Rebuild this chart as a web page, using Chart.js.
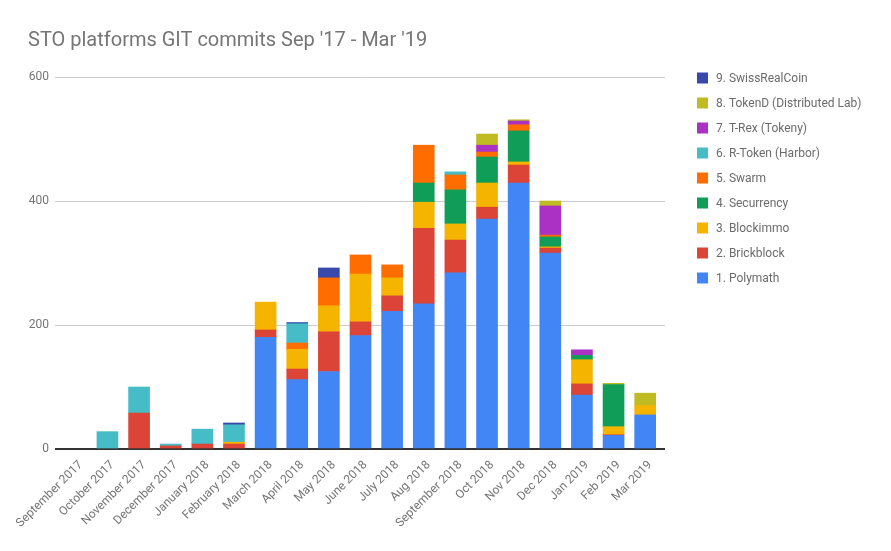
<!DOCTYPE html>
<html>
<head>
<meta charset="utf-8">
<script src="https://cdn.jsdelivr.net/npm/chart.js@4.4.0/dist/chart.umd.min.js"></script>
<style>
html,body{margin:0;padding:0;background:#fff;}
#wrap{width:891px;height:551px;}
</style>
</head>
<body>
<div id="wrap"><canvas id="c" width="891" height="551"></canvas></div>
<script>
const categories = ["September 2017","October 2017","November 2017","December 2017","January 2018","February 2018","March 2018","April 2018","May 2018","June 2018","July 2018","Aug 2018","September 2018","Oct 2018","Nov 2018","Dec 2018","Jan 2019","Feb 2019","Mar 2019"];
const polymath      = [0,0,0,0,0,0,180,112,125,183,222,234,284,371,429,316,87,22,55];
const brickblock    = [0,0,58,5,8,8,12,17,64,22,25,122,53,19,29,8,18,1,0];
const blockimmo     = [0,0,0,0,0,3,45,32,42,77,29,42,26,39,5,2,39,13,15];
const securrency    = [0,0,0,0,0,0,0,0,0,0,0,31,55,42,50,16,7,68,0];
const swarm         = [0,0,0,0,0,0,0,10,45,31,21,61,24,8,10,3,0,0,0];
const rToken        = [0,28,42,3,24,28,0,31,0,0,0,0,5,0,0,0,0,0,0];
const tRex          = [0,0,0,0,0,0,0,0,0,0,0,0,0,11,6,47,9,0,0];
const tokenD        = [0,0,0,0,0,0,0,0,0,0,0,0,0,18,2,8,0,2,20];
const swissRealCoin = [0,0,0,0,0,3,0,2,16,0,0,0,0,0,0,0,0,0,0];
const yTicks = [0,200,400,600];

const seriesNames = ["1. Polymath","2. Brickblock","3. Blockimmo","4. Securrency","5. Swarm","6. R-Token (Harbor)","7. T-Rex (Tokeny)","8. TokenD (Distributed Lab)","9. SwissRealCoin"];
const seriesData = [polymath,brickblock,blockimmo,securrency,swarm,rToken,tRex,tokenD,swissRealCoin];
const seriesColors = ["#4285F4","#DB4437","#F4B400","#0F9D58","#FF6D00","#46BDC6","#AB30C4","#C1BB23","#3949AB"];

const FONT = "Roboto, 'Noto Sans', sans-serif";
const GREY = "#757575";

const legendPlugin = {
  id: 'sideLegend',
  afterDraw(chart) {
    const ctx = chart.ctx;
    const ca = chart.chartArea;
    const n = chart.data.datasets.length;
    ctx.save();
    ctx.font = "12px " + FONT;
    ctx.textBaseline = "middle";
    ctx.textAlign = "left";
    for (let k = 0; k < n; k++) {
      const ds = chart.data.datasets[n - 1 - k];
      const cy = ca.top + 1 + k * 25;
      const bx = ca.right + 36;
      ctx.fillStyle = ds.backgroundColor;
      ctx.fillRect(bx, cy - 5.5, 11, 11);
      ctx.fillStyle = "#6b6b6b";
      ctx.fillText(ds.label, bx + 19, cy + 0.5);
    }
    ctx.restore();
  }
};

new Chart(document.getElementById('c'), {
  type: 'bar',
  data: {
    labels: categories,
    datasets: seriesNames.map((name, i) => ({
      label: name,
      data: seriesData[i].map(v => v === 0 ? null : v),
      backgroundColor: seriesColors[i],
      borderWidth: 0,
      barThickness: 21
    }))
  },
  options: {
    responsive: false,
    animation: false,
    devicePixelRatio: 1,
    layout: { padding: { left: 28, right: 226, top: 0, bottom: 0 } },
    plugins: {
      legend: { display: false },
      tooltip: { enabled: false },
      title: {
        display: true,
        text: "STO platforms GIT commits Sep '17 - Mar '19",
        align: 'start',
        color: GREY,
        font: { family: FONT, size: 20, weight: 'normal' },
        padding: { top: 29, bottom: 24 }
      }
    },
    scales: {
      x: {
        stacked: true,
        grid: { display: false },
        border: { display: false },
        ticks: {
          autoSkip: false,
          minRotation: 45,
          maxRotation: 45,
          color: GREY,
          padding: 1,
          labelOffset: 5,
          font: { family: FONT, size: 12 }
        },
        afterFit(s) { s.height = 102; }
      },
      y: {
        stacked: true,
        min: 0,
        max: 600,
        afterBuildTicks(s) { s.ticks = yTicks.map(v => ({ value: v })); },
        border: { display: false },
        grid: {
          color: ctx => ctx.tick && ctx.tick.value === 0 ? '#333333' : '#cccccc',
          lineWidth: ctx => ctx.tick && ctx.tick.value === 0 ? 2 : 1,
          drawTicks: true,
          tickLength: 5
        },
        ticks: {
          color: GREY,
          padding: 6,
          font: { family: FONT, size: 12 }
        },
        afterFit(s) { s.width = 32; }
      },
      y2: {
        position: 'right',
        min: 0,
        max: 600,
        afterBuildTicks(s) { s.ticks = yTicks.map(v => ({ value: v })); },
        border: { display: false },
        grid: {
          drawOnChartArea: false,
          drawTicks: true,
          tickLength: 4,
          color: ctx => ctx.tick && ctx.tick.value === 0 ? '#333333' : '#cccccc',
          lineWidth: ctx => ctx.tick && ctx.tick.value === 0 ? 2 : 1
        },
        ticks: { display: false },
        afterFit(s) { s.width = 4; }
      }
    }
  },
  plugins: [legendPlugin]
});
</script>
</body>
</html>
